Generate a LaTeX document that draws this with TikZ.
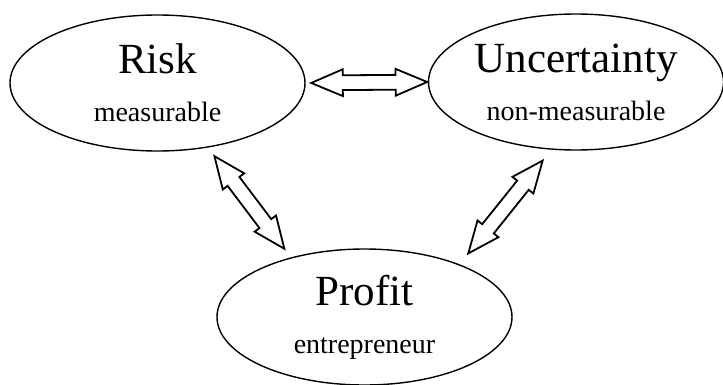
\documentclass[tikz,border=0pt]{standalone}
\usepackage{fontspec}
\setmainfont{Liberation Serif}
\usetikzlibrary{shapes.geometric,shapes.arrows}

\newcommand\bigword[1]{{\fontsize{43}{48}\selectfont #1}}

\begin{document}
\begin{tikzpicture}[x=1pt,y=1pt,
    concept/.style ={ellipse, draw, line width=1.4pt, minimum width=295pt,
      minimum height=136pt, inner sep=0pt, align=center,
      font=\fontsize{28}{48}\selectfont},
    link/.style ={double arrow, draw, line width=1.8pt, sloped,
      minimum width=25pt, inner sep=6.5pt, double arrow head extend=6pt,
      double arrow tip angle=46}]
   \useasboundingbox (0,0) rectangle (723,384);
   \node[concept] (risk) at (157.5,301) {\bigword{Risk}\\measurable};
   \node[concept] (uncertainty) at (576,302) {\bigword{Uncertainty}\\non-measurable};
   \node[concept] (profit) at (364.5,67) {\bigword{Profit}\\entrepreneur};
   % hollow two-way arrows between the ellipses
   \path (risk.east) -- node[link, minimum height=116pt, pos=0.52] (ru) {} (uncertainty.west);
   \path (risk.-52) -- node[link, minimum height=116pt] (rp) {} (profit.141);
   \path (uncertainty.-110) -- node[link, minimum height=119pt] (up) {} (profit.29);
\end{tikzpicture}
\end{document}
